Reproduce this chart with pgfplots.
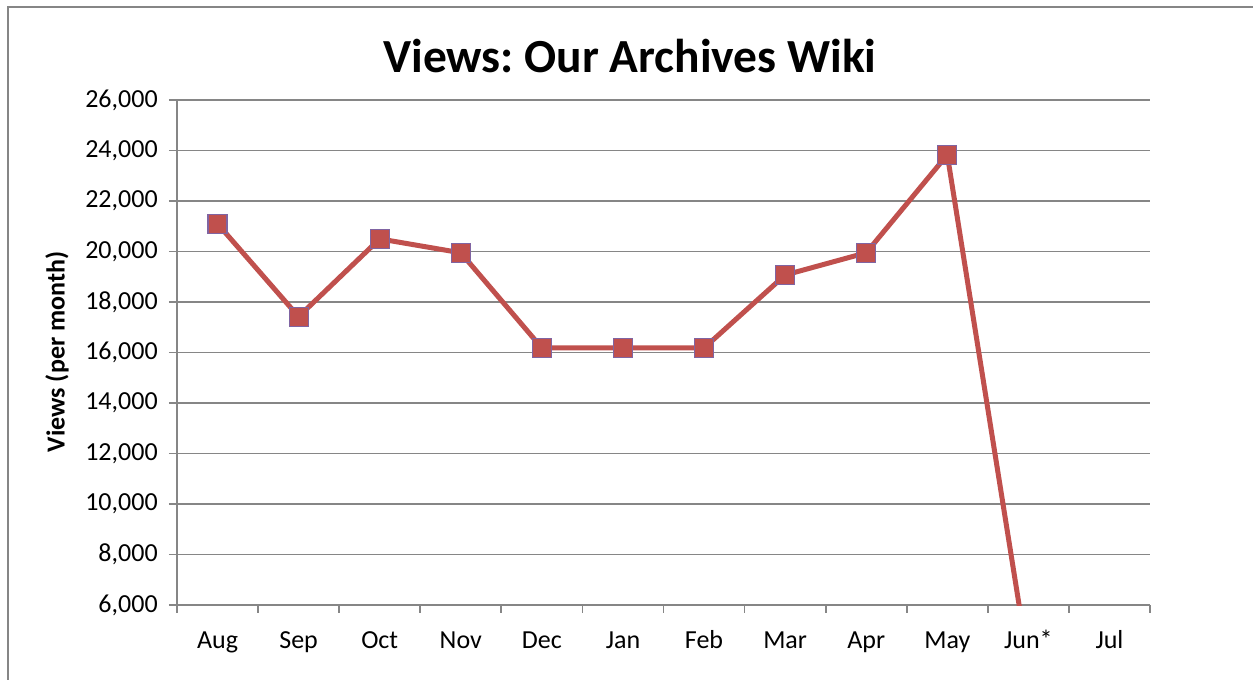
\documentclass[border=0pt]{standalone}
\usepackage{pgfplots}
\pgfplotsset{compat=1.18}
\usepackage{fontspec}
\setmainfont{Carlito}
\definecolor{serred}{RGB}{192,80,77}
\definecolor{mkborder}{RGB}{128,100,162}
\definecolor{axgray}{RGB}{134,134,134}
\frenchspacing
\begin{document}
\begin{tikzpicture}
\useasboundingbox (0,0) rectangle (501.2pt,-271.6pt);
% chart area border (left and top visible)
\draw[axgray, line width=0.6pt] (3.2pt,-300pt) -- (3.2pt,-2.8pt) -- (520pt,-2.8pt);
\node[anchor=base, font=\fontsize{19}{23}\selectfont\bfseries] at (252pt,-28.8pt) {Views: Our Archives Wiki};
\node[rotate=90, font=\fontsize{10.4}{12}\selectfont\bfseries] at (22.8pt,-140.8pt) {Views (per month)};
\begin{axis}[
  at={(70.8pt,-242pt)}, anchor=south west,
  scale only axis, width=389.2pt, height=202pt,
  xmin=-0.5, xmax=11.5, ymin=6000, ymax=26000,
  axis x line*=bottom, axis y line*=left,
  axis line style={axgray, line width=0.7pt},
  xtick={0,...,11},
  xticklabels={Aug,Sep,Oct,Nov,Dec,Jan,Feb,Mar,Apr,May,Jun*,Jul},
  minor xtick={-0.5,0.5,...,11.5},
  major x tick style={draw=none},
  minor x tick style={axgray, line width=0.7pt},
  ytick={6000,8000,...,26000},
  y tick style={axgray, line width=0.7pt},
  tick align=outside,
  major tick length=3.2pt, minor tick length=3pt,
  ymajorgrids, grid style={axgray, line width=0.7pt},
  scaled y ticks=false,
  ticklabel style={font=\fontsize{10.4}{12}\selectfont},
  /pgf/number format/assume math mode=true,
  yticklabel style={/pgf/number format/fixed, /pgf/number format/1000 sep={,}, xshift=-1pt},
  xticklabel style={yshift=-3.5pt, text height=7.2pt, text depth=2.2pt},
  clip=true,
]
\addplot[serred, line width=2pt, mark=square*, mark size=3.8pt,
  mark options={fill=serred, draw=mkborder, line width=0.5pt}]
  coordinates {(0,21100) (1,17420) (2,20500) (3,19950) (4,16180) (5,16180)
  (6,16180) (7,19070) (8,19950) (9,23830) (10,3700)};
\end{axis}
\end{tikzpicture}
\end{document}
